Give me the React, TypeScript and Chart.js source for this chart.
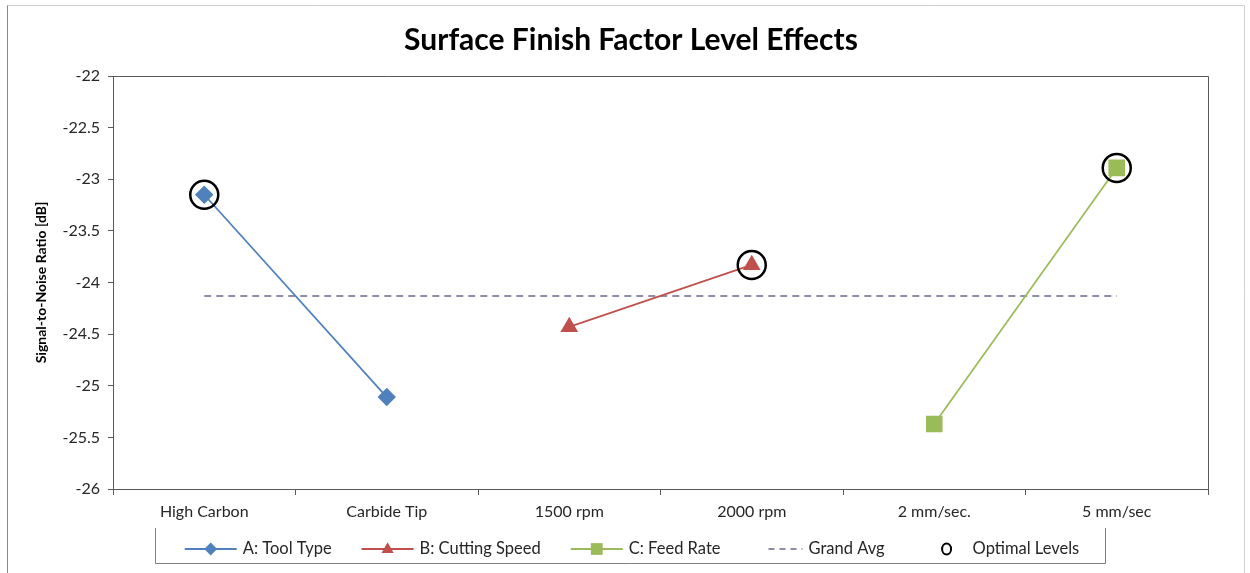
import React, { useEffect, useRef } from "react";
import { Chart, registerables } from "chart.js";

Chart.register(...registerables);

const TITLE = "Surface Finish Factor Level Effects";
const Y_TITLE = "Signal-to-Noise Ratio [dB]";
const CATEGORIES = ["High Carbon", "Carbide Tip", "1500 rpm", "2000 rpm", "2 mm/sec.", "5 mm/sec"];
const TOOL_TYPE = [-23.15, -25.11, null, null, null, null];
const CUTTING_SPEED = [null, null, -24.43, -23.83, null, null];
const FEED_RATE = [null, null, null, null, -25.37, -22.89];
const GRAND_AVG = -24.13;
const OPTIMAL = [-23.15, null, null, -23.83, null, -22.89];
const SERIES_NAMES = ["A: Tool Type", "B: Cutting Speed", "C: Feed Rate", "Grand Avg", "Optimal Levels"];
const Y_MIN = -26;
const Y_MAX = -22;
const Y_STEP = 0.5;

const FONT = "Lato, 'Open Sans', sans-serif";
const BLUE = "#4F81BD";
const RED = "#C0504D";
const GREEN = "#9BBB59";
const AVG = "#68688a";
const AXIS = "#595959";

const framePlugin = {
  id: "frame",
  beforeDraw(chart: any) {
    const { ctx, width, height } = chart;
    ctx.save();
    ctx.fillStyle = "#ffffff";
    ctx.fillRect(0, 0, width, height);
    ctx.strokeStyle = "#d0d0d0";
    ctx.lineWidth = 1;
    ctx.beginPath();
    ctx.moveTo(7.5, height);
    ctx.lineTo(7.5, 5.5);
    ctx.lineTo(width - 5.5, 5.5);
    ctx.lineTo(width - 5.5, height);
    ctx.stroke();
    ctx.strokeStyle = "#8a8a8a";
    ctx.beginPath();
    ctx.moveTo(7.5, height);
    ctx.lineTo(7.5, 5.5);
    ctx.stroke();
    ctx.restore();
  },
  beforeDatasetsDraw(chart: any) {
    const { ctx, chartArea } = chart;
    ctx.save();
    ctx.strokeStyle = AXIS;
    ctx.lineWidth = 1;
    ctx.beginPath();
    ctx.moveTo(Math.round(chartArea.left) + 0.5, Math.round(chartArea.top) + 0.5);
    ctx.lineTo(Math.round(chartArea.right) + 0.5, Math.round(chartArea.top) + 0.5);
    ctx.lineTo(Math.round(chartArea.right) + 0.5, Math.round(chartArea.bottom) + 0.5);
    ctx.stroke();
    ctx.restore();
  },
};

const legendPlugin = {
  id: "customLegend",
  afterDraw(chart: any) {
    const { ctx } = chart;
    const boxL = 155.5, boxR = 1105.5, boxT = 528, boxB = 563.5;
    const cy = 549;
    ctx.save();
    ctx.strokeStyle = "#7f7f7f";
    ctx.lineWidth = 1;
    ctx.beginPath();
    ctx.moveTo(boxL, boxT);
    ctx.lineTo(boxL, boxB);
    ctx.lineTo(boxR, boxB);
    ctx.lineTo(boxR, boxT);
    ctx.stroke();

    ctx.font = `16.5px ${FONT}`;
    ctx.textBaseline = "middle";
    ctx.fillStyle = "#262626";
    const symW = 52, symGap = 6, itemGap = 30;
    const widths = SERIES_NAMES.map((n) => symW + symGap + ctx.measureText(n).width);
    const total = widths.reduce((a, b) => a + b, 0) + itemGap * (SERIES_NAMES.length - 1);
    let x = 632 - total / 2;
    const ds = chart.data.datasets;
    SERIES_NAMES.forEach((name, i) => {
      const d = ds[i];
      const mid = x + symW / 2;
      if (i < 3) {
        ctx.strokeStyle = d.borderColor;
        ctx.lineWidth = 2;
        ctx.beginPath();
        ctx.moveTo(x, cy);
        ctx.lineTo(x + symW, cy);
        ctx.stroke();
        ctx.fillStyle = d.pointBackgroundColor;
        ctx.beginPath();
        const r = d.pointRadius * 0.8;
        if (d.pointStyle === "rectRot") {
          ctx.moveTo(mid, cy - r); ctx.lineTo(mid + r, cy); ctx.lineTo(mid, cy + r); ctx.lineTo(mid - r, cy);
        } else if (d.pointStyle === "triangle") {
          ctx.moveTo(mid, cy - r); ctx.lineTo(mid + r * 0.9, cy + r * 0.6); ctx.lineTo(mid - r * 0.9, cy + r * 0.6);
        } else {
          const s = r * 0.7;
          ctx.rect(mid - s, cy - s, 2 * s, 2 * s);
        }
        ctx.closePath();
        ctx.fill();
      } else if (i === 3) {
        ctx.strokeStyle = AVG;
        ctx.lineWidth = 1.5;
        ctx.setLineDash([6, 5]);
        ctx.beginPath();
        ctx.moveTo(x + 18, cy);
        ctx.lineTo(x + symW, cy);
        ctx.stroke();
        ctx.setLineDash([]);
      } else {
        ctx.strokeStyle = "#000";
        ctx.lineWidth = 2;
        ctx.beginPath();
        ctx.ellipse(mid + 6, cy, 4.5, 5.5, 0, 0, Math.PI * 2);
        ctx.stroke();
      }
      ctx.fillStyle = "#262626";
      ctx.fillText(name, x + symW + symGap, cy);
      x += widths[i] + itemGap;
    });
    ctx.restore();
  },
};

export default function App() {
  const ref = useRef<HTMLCanvasElement | null>(null);
  useEffect(() => {
    document.body.style.margin = "0";
    const canvas = ref.current;
    if (!canvas) return;
    const chart = new Chart(canvas, {
      type: "line",
      data: {
        labels: CATEGORIES,
        datasets: [
          {
            label: SERIES_NAMES[0],
            data: TOOL_TYPE,
            borderColor: BLUE,
            backgroundColor: BLUE,
            pointBackgroundColor: BLUE,
            pointBorderColor: BLUE,
            pointStyle: "rectRot",
            pointRadius: 8,
            borderWidth: 1.75,
            spanGaps: false,
            order: 2,
          },
          {
            label: SERIES_NAMES[1],
            data: CUTTING_SPEED,
            borderColor: RED,
            backgroundColor: RED,
            pointBackgroundColor: RED,
            pointBorderColor: RED,
            pointStyle: "triangle",
            pointRadius: 8.5,
            borderWidth: 1.75,
            spanGaps: false,
            order: 2,
          },
          {
            label: SERIES_NAMES[2],
            data: FEED_RATE,
            borderColor: GREEN,
            backgroundColor: GREEN,
            pointBackgroundColor: GREEN,
            pointBorderColor: GREEN,
            pointStyle: "rect",
            pointRadius: 10.5,
            borderWidth: 1.75,
            spanGaps: false,
            order: 2,
          },
          {
            label: SERIES_NAMES[3],
            data: CATEGORIES.map(() => GRAND_AVG),
            borderColor: AVG,
            borderDash: [7, 5],
            borderWidth: 1.5,
            pointRadius: 0,
            order: 3,
          },
          {
            label: SERIES_NAMES[4],
            data: OPTIMAL,
            showLine: false,
            pointStyle: "circle",
            pointRadius: 14,
            pointBorderWidth: 2.5,
            pointBorderColor: "#000000",
            pointBackgroundColor: "rgba(0,0,0,0)",
            borderColor: "#000000",
            order: 1,
          },
        ] as any,
      },
      options: {
        animation: false,
        responsive: false,
        maintainAspectRatio: false,
        layout: { padding: { left: 12, right: 0, top: 0, bottom: 0 } },
        plugins: {
          legend: { display: false },
          tooltip: { enabled: false },
          title: {
            display: true,
            text: TITLE,
            color: "#000000",
            font: { family: FONT, size: 30, weight: "bold", lineHeight: 1.2 },
            padding: { top: 22, bottom: 18 },
          },
        },
        scales: {
          x: {
            type: "category",
            offset: true,
            grid: { offset: true, drawOnChartArea: false, drawTicks: true, tickLength: 6, color: AXIS },
            border: { color: AXIS, width: 1 },
            ticks: { color: "#262626", font: { family: FONT, size: 16 }, padding: 7, maxRotation: 0 },
            afterFit(scale: any) { scale.height = 84; },
          },
          y: {
            min: Y_MIN,
            max: Y_MAX,
            grid: { drawOnChartArea: false, drawTicks: true, tickLength: 5, color: AXIS },
            border: { color: AXIS, width: 1 },
            ticks: {
              stepSize: Y_STEP,
              color: "#262626",
              font: { family: FONT, size: 16 },
              padding: 8,
              callback: (v: any) => String(Number(v)),
            },
            title: {
              display: true,
              text: Y_TITLE,
              color: "#000000",
              font: { family: FONT, size: 14, weight: "bold" },
              padding: { top: 21, bottom: 0 },
            },
            afterFit(scale: any) { scale.width = 101; },
          },
          yRight: {
            type: "linear",
            position: "right",
            display: true,
            min: Y_MIN,
            max: Y_MAX,
            grid: { display: false, drawTicks: false },
            border: { display: false },
            ticks: { display: false },
            afterFit(scale: any) { scale.width = 42; },
          },
        },
      } as any,
      plugins: [framePlugin, legendPlugin],
    });
    return () => chart.destroy();
  }, []);
  return (
    <div style={{ width: 1250, height: 573 }}>
      <canvas ref={ref} width={1250} height={573} style={{ display: "block" }} />
    </div>
  );
}
